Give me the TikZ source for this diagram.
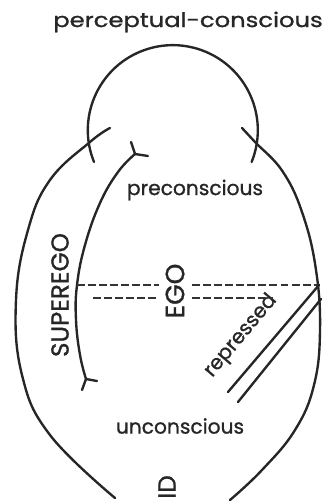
\documentclass[tikz,border=0pt]{standalone}
\usepackage{fontspec}
\setmainfont{Poppins}[FakeBold=1.0]
\tikzset{
  wall/.style={line width=1.35pt, draw=black!85, line cap=round, line join=round},
  split/.style={line width=0.9pt, draw=black!80, dash pattern=on 4.5pt off 1.8pt},
  zone/.style={font=\fontsize{11.5}{13}\selectfont, text=black!85, inner sep=0pt},
  agency/.style={font=\fontsize{14}{16}\selectfont, text=black!85, inner sep=0pt, rotate=90},
}

\begin{document}
\begin{tikzpicture}[x=0.02cm,y=-0.02cm]
\useasboundingbox (0,0) rectangle (321,502);
% labels
\node[zone, xscale=1.2] (pcpt) at (188,22) {perceptual-conscious};
\node[zone] (pre) at (195,190) {preconscious};
\node[zone] (unc) at (180,426) {unconscious};
\node[agency] (sup) at (60,295) {SUPEREGO};
\node[agency, font=\fontsize{15}{17}\selectfont] (ego) at (175,291) {EGO};
\node[agency] (id) at (167,487) {ID};
\node[zone, rotate=50] (rep) at (241,336) {repressed};
% perceptual-conscious cap
\draw[wall] (94,162) arc[start angle=-202, end angle=22, radius=85];
% outer walls
\draw[wall] plot[smooth, tension=0.7] coordinates {(110,128) (90,142) (50,180) (28,230) (16,300) (22,375) (50,435) (115,498)};
\draw[wall] plot[smooth, tension=0.7] coordinates {(242,128) (255,142) (283,172) (303,215) (316,270) (320,330) (314,385) (295,430) (262,470) (230,500)};
% ego / superego wall
\coordinate (egotop) at (135,154);
\coordinate (egobot) at (86,379);
\draw[wall] plot[smooth, tension=0.7] coordinates {(135,154) (118,172) (100,203) (85,245) (77,285) (76,320) (80,355) (86,379)};
\draw[wall] (egotop) -- (131,142);
\draw[wall] (egotop) -- (148,156);
\draw[wall] (egobot) -- (97,381);
\draw[wall] (egobot) -- (82,390);
% dashed borders
\draw[split] (77,285) -- (159,285);
\draw[split] (192,285) -- (319,285);
\draw[split] (93,298) -- (159,298);
\draw[split] (192,298) -- (273,298);
% repressed band
\draw[wall] (319,285) -- (228,392);
\draw[wall] (321,299) -- (238,402);
\end{tikzpicture}
\end{document}
